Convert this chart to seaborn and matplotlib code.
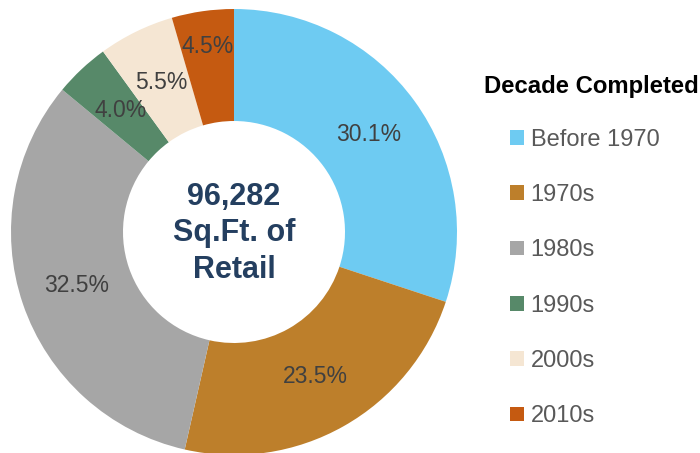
import matplotlib
matplotlib.use("Agg")
import matplotlib.pyplot as plt
import seaborn as sns
from matplotlib.patches import Patch

decades = ["Before 1970", "1970s", "1980s", "1990s", "2000s", "2010s"]
shares = [30.1, 23.5, 32.5, 4.0, 5.5, 4.5]
colors = ["#6ECBF2", "#BD7F2B", "#A6A6A6", "#578969", "#F5E6D3", "#C55A11"]
center_text = "96,282\nSq.Ft. of\nRetail"
legend_title = "Decade Completed"

sns.set_theme(style="white")
plt.rcParams["font.family"] = ["Liberation Sans", "DejaVu Sans"]

fig = plt.figure(figsize=(7, 4.53), dpi=100)
ax = fig.add_axes([0, 0, 1, 1])

cx, cy, r = 234, 221, 223
wedges, texts, autotexts = ax.pie(
    shares, colors=colors, startangle=90, counterclock=False,
    center=(cx, cy), radius=r, autopct="%.1f%%", pctdistance=0.745,
    wedgeprops=dict(width=112, linewidth=0),
    textprops=dict(color="#404040", fontsize=16.5))

# the small top slice label sits further out in the reference
x, y = autotexts[-1].get_position()
autotexts[-1].set_position((cx + (x - cx) * 1.13, cy + (y - cy) * 1.13))

ax.text(cx, cy - 1.5, center_text, ha="center", va="center", fontsize=22,
        fontweight="bold", color="#243F60", linespacing=1.3)

ax.set_xlim(0, 700)
ax.set_ylim(0, 453)
ax.set_aspect("equal")
ax.axis("off")

fig.text(484 / 700, 1 - 86 / 453, legend_title, ha="left", va="center",
         fontsize=17.2, fontweight="bold", color="black")

handles = [Patch(facecolor=c, edgecolor="none") for c in colors]
leg = fig.legend(handles, decades, loc="upper left",
                 bbox_to_anchor=(498 / 700, 1 - 117 / 453),
                 bbox_transform=fig.transFigure, frameon=False, borderpad=0,
                 handlelength=0.58, handleheight=0.58, handletextpad=0.3,
                 labelspacing=1.41, fontsize=17)
for t in leg.get_texts():
    t.set_color("#595959")

fig.savefig("out.png", dpi=100)
